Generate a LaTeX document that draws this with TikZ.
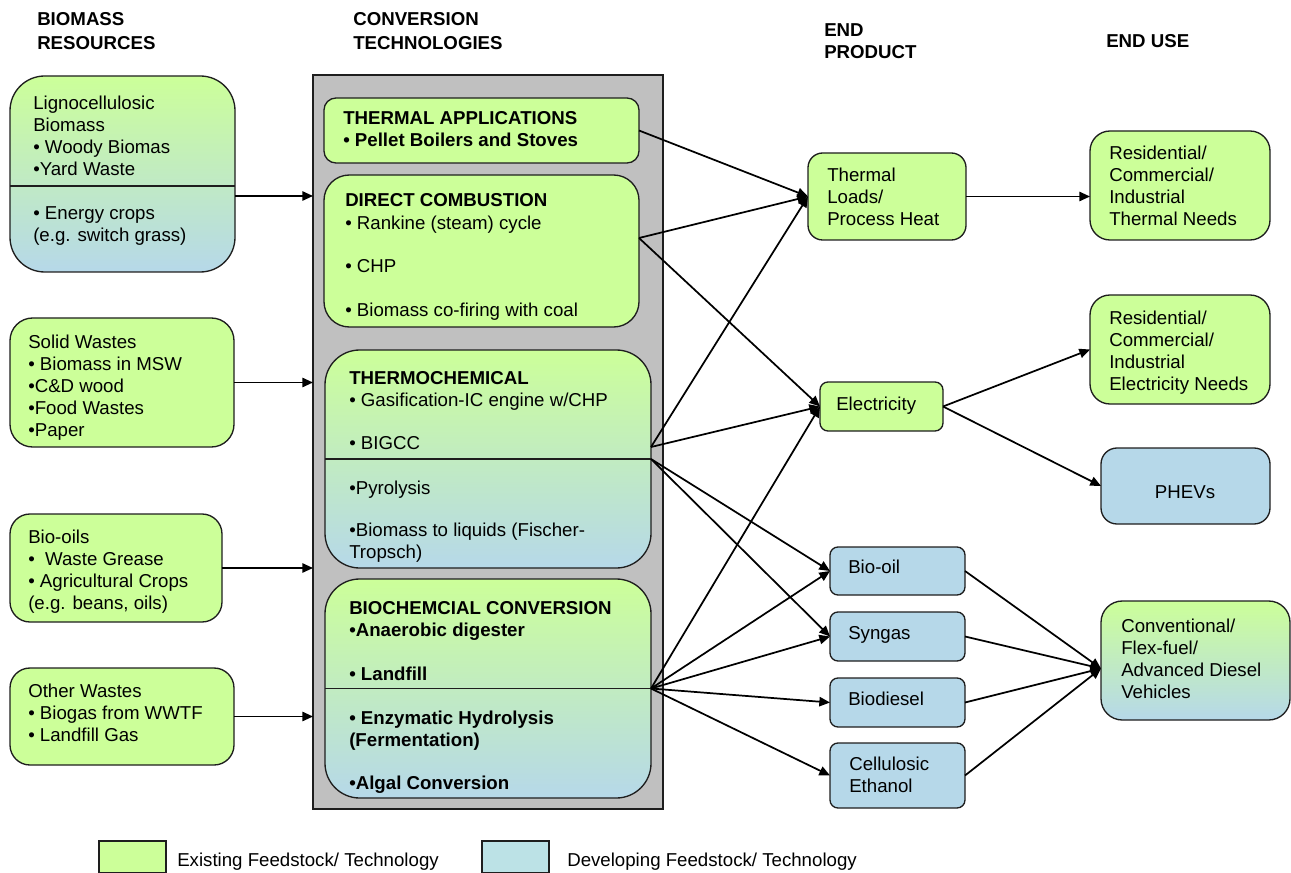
\documentclass[tikz,border=0pt]{standalone}
\usepackage{fontspec}
\setmainfont{Liberation Sans}
\usetikzlibrary{arrows.meta}
\definecolor{gfill}{RGB}{204,255,153}
\definecolor{bfill}{RGB}{182,216,233}
\definecolor{lgblue}{RGB}{188,226,230}
\definecolor{grayfill}{RGB}{192,192,192}
\definecolor{edge}{RGB}{30,30,30}
\tikzset{
  box/.style={draw=edge, line width=1pt, inner sep=0pt, outer sep=0pt, anchor=north west},
  gbox/.style={box, fill=gfill},
  bbox/.style={box, fill=bfill},
  sbox/.style={box, top color=gfill, bottom color=bfill},
  txt/.style={anchor=base west, inner sep=0pt, align=left, font=\fontsize{14}{16.5}\selectfont},
  btxt/.style={txt, font=\fontsize{14}{16.5}\selectfont\bfseries},
  htxt/.style={anchor=base west, inner sep=0pt, align=left, font=\fontsize{14}{17.5}\selectfont\bfseries},
  arr/.style={draw=black, line width=1.3pt, -{Triangle[length=8pt,width=7pt]}},
  divider/.style={draw=edge, line width=1pt}
}
\begin{document}
\begin{tikzpicture}[x=0.75pt,y=-0.75pt]
\useasboundingbox (0,0) rectangle (1291,873);

% headers (anchor = baseline of last line)
\node[htxt, font=\fontsize{14}{18}\selectfont\bfseries] (h1) at (37,50) {BIOMASS\\RESOURCES};
\node[htxt] (h2) at (353,49.3) {CONVERSION\\TECHNOLOGIES};
\node[htxt, font=\fontsize{14}{16.5}\selectfont\bfseries] (h3) at (824,59) {END\\PRODUCT};
\node[htxt] (h4) at (1106,48) {END USE};

% left column
\node[sbox, rounded corners=26pt, minimum width=168.75pt, minimum height=147pt] (lig) at (10,76) {};
\draw[divider] (lig.west |- 0,186) -- (lig.east |- 0,186);
\node[gbox, rounded corners=17pt, minimum width=168pt, minimum height=96.75pt] (sol) at (10,318) {};
\node[gbox, rounded corners=15pt, minimum width=159pt, minimum height=81pt] (bio) at (10,514) {};
\node[gbox, rounded corners=15pt, minimum width=168pt, minimum height=72.75pt] (oth) at (10,668) {};

\node[txt] (tlig) at (33,242) {Lignocellulosic\\Biomass\\• Woody Biomas\\•Yard Waste\\[16.5pt]• Energy crops\\(e.g. switch grass)};
\node[txt] (tsol) at (28,436) {Solid Wastes\\• Biomass in MSW\\•C\&D wood\\•Food Wastes\\•Paper};
\node[txt] (tbio) at (28,609) {Bio-oils\\•\ \ Waste Grease\\• Agricultural Crops\\(e.g. beans, oils)};
\node[txt] (toth) at (28,741) {Other Wastes\\• Biogas from WWTF\\• Landfill Gas};

% conversion container
\node[box, fill=grayfill, minimum width=262.5pt, minimum height=550.5pt] (ct) at (313,75) {};
\node[gbox, rounded corners=9pt, minimum width=236.25pt, minimum height=48.75pt] (ta) at (324,98) {};
\node[gbox, rounded corners=19pt, minimum width=236.25pt, minimum height=114pt] (dc) at (324,175) {};
\node[sbox, rounded corners=26pt, minimum width=244.5pt, minimum height=163.5pt] (tc) at (325,350) {};
\draw[divider] (tc.west) -- (tc.east);
\node[sbox, rounded corners=26pt, minimum width=244.5pt, minimum height=164.25pt] (bc) at (325,579) {};
\draw[divider] (bc.west) -- (bc.east);

\node[btxt] (tta) at (343,147) {THERMAL APPLICATIONS\\• Pellet Boilers and Stoves};
\node[txt] (tdc) at (345,316) {\textbf{DIRECT COMBUSTION}\\• Rankine (steam) cycle\\[16.5pt]• CHP\\[15.75pt]• Biomass co-firing with coal};
\node[txt] (ttc) at (349,558) {\textbf{THERMOCHEMICAL}\\• Gasification-IC engine w/CHP\\[15.75pt]• BIGCC\\[17.25pt]•Pyrolysis\\[15pt]•Biomass to liquids (Fischer-\\Tropsch)};
\node[btxt] (tbc) at (349,789) {BIOCHEMCIAL CONVERSION\\•Anaerobic digester\\[16.5pt]• Landfill\\[16.5pt]• Enzymatic Hydrolysis\\(Fermentation)\\[15.75pt]•Algal Conversion};

% end products
\node[gbox, rounded corners=11pt, minimum width=118.5pt, minimum height=65.25pt] (tl) at (808,153) {};
\node[gbox, rounded corners=6pt, minimum width=92.25pt, minimum height=36.75pt] (el) at (820,382) {};
\node[bbox, rounded corners=6pt, minimum width=101.25pt, minimum height=36pt] (bo) at (830,547) {};
\node[bbox, rounded corners=6pt, minimum width=101.25pt, minimum height=36.75pt] (sg) at (830,612) {};
\node[bbox, rounded corners=6pt, minimum width=101.25pt, minimum height=36.75pt] (bd) at (830,678) {};
\node[bbox, rounded corners=6pt, minimum width=101.25pt, minimum height=48.75pt] (ce) at (830,743) {};

\node[txt] (ttl) at (827,226) {Thermal\\Loads/\\Process Heat};
\node[txt] (tel) at (836,410) {Electricity};
\node[txt] (tbo) at (848,573) {Bio-oil};
\node[txt] (tsg) at (848,639) {Syngas};
\node[txt] (tbd) at (848,705) {Biodiesel};
\node[txt] (tce) at (849,792) {Cellulosic\\Ethanol};

% end uses
\node[gbox, rounded corners=15pt, minimum width=135pt, minimum height=81.75pt] (rt) at (1090,131) {};
\node[gbox, rounded corners=15pt, minimum width=135pt, minimum height=81.75pt] (re) at (1090,295) {};
\node[bbox, rounded corners=12pt, minimum width=126.75pt, minimum height=57pt] (ph) at (1101,448) {};
\node[sbox, rounded corners=16pt, minimum width=141.75pt, minimum height=89.25pt] (cv) at (1101,601) {};

\node[txt] (trt) at (1109,226) {Residential/\\Commercial/\\Industrial\\Thermal Needs};
\node[txt] (tre) at (1109,390) {Residential/\\Commercial/\\Industrial\\Electricity Needs};
\node[txt, anchor=base] (tph) at (1185,498) {PHEVs};
\node[txt] (tcv) at (1121,698) {Conventional/\\Flex-fuel/\\Advanced Diesel\\Vehicles};

% legend
\node[gbox, minimum width=50.25pt, minimum height=24pt] (lg1) at (99,841) {};
\node[box, fill=lgblue, minimum width=50.25pt, minimum height=24pt] (lg2) at (482,841) {};
\node[txt] (tlg1) at (177,866) {Existing Feedstock/ Technology};
\node[txt] (tlg2) at (567,866) {Developing Feedstock/ Technology};

% helper coordinates
\coordinate (ligout) at ([yshift=-16.5pt]lig.east);
\coordinate (dcout) at ([yshift=9.75pt]dc.east);
\coordinate (tcout) at ([yshift=9pt]tc.east);
\coordinate (cvin) at ([yshift=-6pt]cv.west);

% connectors into conversion
\draw[arr] (ligout) -- (ligout -| ct.west);
\draw[arr] (sol.east) -- (sol.east -| ct.west);
\draw[arr] (bio.east) -- (bio.east -| ct.west);
\draw[arr] (oth.east) -- (oth.east -| ct.west);

% conversion to end products
\draw[arr] (ta.east) -- (tl.west);
\draw[arr] (dcout) -- (tl.west);
\draw[arr] (dcout) -- (el.west);
\draw[arr] (tcout) -- (tl.west);
\draw[arr] (tcout) -- (el.west);
\draw[arr] (tc.east) -- (bo.west);
\draw[arr] (tc.east) -- (sg.west);
\draw[arr] (bc.east) -- (el.west);
\draw[arr] (bc.east) -- (bo.west);
\draw[arr] (bc.east) -- (sg.west);
\draw[arr] (bc.east) -- (bd.west);
\draw[arr] (bc.east) -- (ce.west);

% end products to end uses
\draw[arr] (tl.east) -- (tl.east -| rt.west);
\draw[arr] (el.east) -- (re.west);
\draw[arr] (el.east) -- (ph.west);
\draw[arr] (bo.east) -- (cvin);
\draw[arr] (sg.east) -- (cvin);
\draw[arr] (bd.east) -- (cvin);
\draw[arr] (ce.east) -- (cvin);
\end{tikzpicture}
\end{document}
